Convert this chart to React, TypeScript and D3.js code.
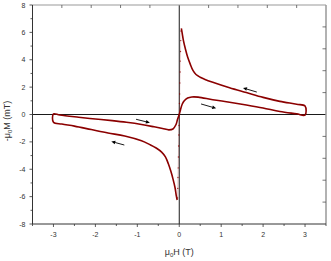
import * as d3 from "d3";

// descending field, upper branch (3 T -> peak near 0)
const upperH = [3, 2.8, 2.4, 2.0, 1.6, 1.2, 0.8, 0.6, 0.5, 0.4, 0.33, 0.26, 0.2, 0.15, 0.1, 0.07, 0.05];
const upperM = [0.62, 0.75, 0.96, 1.25, 1.6, 1.95, 2.35, 2.58, 2.72, 2.92, 3.2, 3.7, 4.2, 4.75, 5.4, 5.95, 6.3];

// switching jump near zero field (sparse points)
const jumpH = [0.04, 0.035, 0.03, 0.025, 0.02, 0.015, 0.01, 0.005, 0, -0.005, -0.01, -0.015, -0.02, -0.025, -0.03, -0.035, -0.04];
const jumpM = [6.1, 5.4, 4.6, 3.9, 3.1, 2.3, 1.5, 0.8, 0, -0.8, -1.5, -2.3, -3.1, -3.9, -4.6, -5.4, -6.1];

// descending field, lower branch (peak near 0 -> -3 T)
const lowerH = [-0.05, -0.07, -0.1, -0.15, -0.2, -0.26, -0.33, -0.42, -0.55, -0.7, -0.9, -1.3, -1.7, -2.1, -2.5, -2.8, -3];
const lowerM = [-6.25, -5.95, -5.35, -4.7, -4.15, -3.6, -3.1, -2.75, -2.45, -2.2, -1.92, -1.57, -1.35, -1.1, -0.85, -0.7, -0.57];

// ascending field, -3 T -> 0
const riseLeftH = [-3, -2.85, -2.4, -2.0, -1.6, -1.26, -0.9, -0.6, -0.4, -0.25, -0.15, -0.08, -0.04, 0];
const riseLeftM = [0.04, -0.04, -0.2, -0.33, -0.45, -0.57, -0.73, -0.9, -1.02, -1.12, -1.06, -0.75, -0.35, 0];

// ascending field, 0 -> 3 T
const riseRightH = [0.03, 0.07, 0.12, 0.2, 0.3, 0.45, 0.8, 1.2, 1.6, 2.0, 2.4, 2.8, 3];
const riseRightM = [0.35, 0.75, 1.0, 1.2, 1.28, 1.27, 1.08, 0.9, 0.7, 0.48, 0.22, 0.05, -0.04];

// sweep direction arrows: [tailH, tailM, headH, headM]
const arrows = [
  [1.85, 1.64, 1.52, 1.94],
  [0.52, 0.77, 0.88, 0.45],
  [-1.03, -0.35, -0.7, -0.6],
  [-1.31, -2.23, -1.62, -1.97],
];

const xTicks = [-3, -2, -1, 0, 1, 2, 3];
const xMinor = [-3.5, -2.5, -1.5, -0.5, 0.5, 1.5, 2.5, 3.5];
const yTicks = [-8, -6, -4, -2, 0, 2, 4, 6, 8];
const yMinor = [-7, -5, -3, -1, 1, 3, 5, 7];
const topTicks = [-2.8, -2.1, -1.4, -0.7, 0.7, 1.4, 2.1, 2.8];
const rightTicks = [-6.4, -4.8, -3.2, -1.6, 1.6, 3.2, 4.8, 6.4];

export default function App() {
  const W = 331;
  const H = 261;
  const left = 32.5;
  const right = 326;
  const top = 5;
  const bottom = 224;

  const x = d3.scaleLinear().domain([-3.5, 3.5]).range([left, right]);
  const y = d3.scaleLinear().domain([-8, 8]).range([bottom, top]);

  const zip = (hs: number[], ms: number[]) => hs.map((h, i) => [h, ms[i]] as [number, number]);
  const loop = [
    ...zip(lowerH, lowerM),
    ...zip(riseLeftH, riseLeftM),
    ...zip(riseRightH, riseRightM),
    ...zip(upperH, upperM),
  ];
  const line = d3
    .line<[number, number]>()
    .x((d) => x(d[0]))
    .y((d) => y(d[1]))
    .curve(d3.curveCatmullRom.alpha(0.5));
  const jump = zip(jumpH, jumpM);
  const red = "#8b0000";
  const font = "'Liberation Sans', Arial, sans-serif";

  return (
    <svg width={W} height={H} style={{ position: "absolute", left: 0, top: 0 }} fontFamily={font}>
      <rect width={W} height={H} fill="#fff" />
      {/* zero lines */}
      <line x1={left} x2={right} y1={y(0)} y2={y(0)} stroke="#000" strokeWidth={0.9} />
      <line x1={x(0)} x2={x(0)} y1={top} y2={bottom} stroke="#000" strokeWidth={0.9} />

      {/* frame */}
      <line x1={left} x2={right} y1={top} y2={top} stroke="#999" strokeWidth={1.2} />
      <line x1={right} x2={right} y1={top} y2={bottom} stroke="#999" strokeWidth={1.5} />
      <line x1={left} x2={left} y1={top} y2={bottom} stroke="#333" strokeWidth={1} />
      <line x1={left} x2={right} y1={bottom} y2={bottom} stroke="#333" strokeWidth={1} />

      {/* bottom ticks (outward) */}
      {xTicks.map((t) => (
        <g key={"xt" + t}>
          <line x1={x(t)} x2={x(t)} y1={bottom} y2={bottom + 3} stroke="#333" strokeWidth={0.8} />
          <text x={x(t)} y={237.3} textAnchor="middle" fontSize={7} fill="#333">
            {t}
          </text>
        </g>
      ))}
      {xMinor.map((t) => (
        <line key={"xm" + t} x1={x(t)} x2={x(t)} y1={bottom} y2={bottom + 2} stroke="#333" strokeWidth={0.8} />
      ))}
      {/* left ticks (outward) */}
      {yTicks.map((t) => (
        <g key={"yt" + t}>
          <line x1={left - 3} x2={left} y1={y(t)} y2={y(t)} stroke="#333" strokeWidth={0.8} />
          <text x={25.5} y={y(t) + 2.5} textAnchor="end" fontSize={7} fill="#333">
            {t}
          </text>
        </g>
      ))}
      {yMinor.map((t) => (
        <line key={"ym" + t} x1={left - 2} x2={left} y1={y(t)} y2={y(t)} stroke="#333" strokeWidth={0.8} />
      ))}
      {/* top and right ticks (inward) */}
      {topTicks.map((t) => (
        <line key={"tt" + t} x1={x(t)} x2={x(t)} y1={top} y2={top + 3} stroke="#555" strokeWidth={0.8} />
      ))}
      {rightTicks.map((t) => (
        <line key={"rt" + t} x1={right - 3.5} x2={right} y1={y(t)} y2={y(t)} stroke="#555" strokeWidth={0.8} />
      ))}

      {/* loop */}
      <path d={line(loop) ?? ""} fill="none" stroke={red} strokeWidth={1.6} strokeLinejoin="round" />
      <path d={line(jump) ?? ""} fill="none" stroke={red} strokeWidth={0.5} strokeOpacity={0.4} />
      {jump.map((d, i) => (
        <circle key={"j" + i} cx={x(d[0])} cy={y(d[1])} r={0.7} fill={red} fillOpacity={0.8} />
      ))}

      {/* arrows */}
      {arrows.map((a, i) => {
        const x1 = x(a[0]);
        const y1 = y(a[1]);
        const x2 = x(a[2]);
        const y2 = y(a[3]);
        const ang = Math.atan2(y2 - y1, x2 - x1);
        const L = 4;
        const w = 1.8;
        const bx = x2 - L * Math.cos(ang);
        const by = y2 - L * Math.sin(ang);
        const px = -Math.sin(ang) * w;
        const py = Math.cos(ang) * w;
        return (
          <g key={"a" + i}>
            <line x1={x1} y1={y1} x2={bx} y2={by} stroke="#000" strokeWidth={0.9} />
            <path d={`M${x2},${y2}L${bx + px},${by + py}L${bx - px},${by - py}Z`} fill="#000" />
          </g>
        );
      })}

      {/* axis titles */}
      <text x={179.3} y={255} textAnchor="middle" fontSize={9} fill="#333">
        μ<tspan fontSize={6} dy={2}>0</tspan>
        <tspan dy={-2}>H (T)</tspan>
      </text>
      <text transform={`translate(10,121) rotate(-90)`} textAnchor="middle" fontSize={9} fill="#333">
        -μ<tspan fontSize={6} dy={2}>0</tspan>
        <tspan dy={-2}>M (mT)</tspan>
      </text>
    </svg>
  );
}
